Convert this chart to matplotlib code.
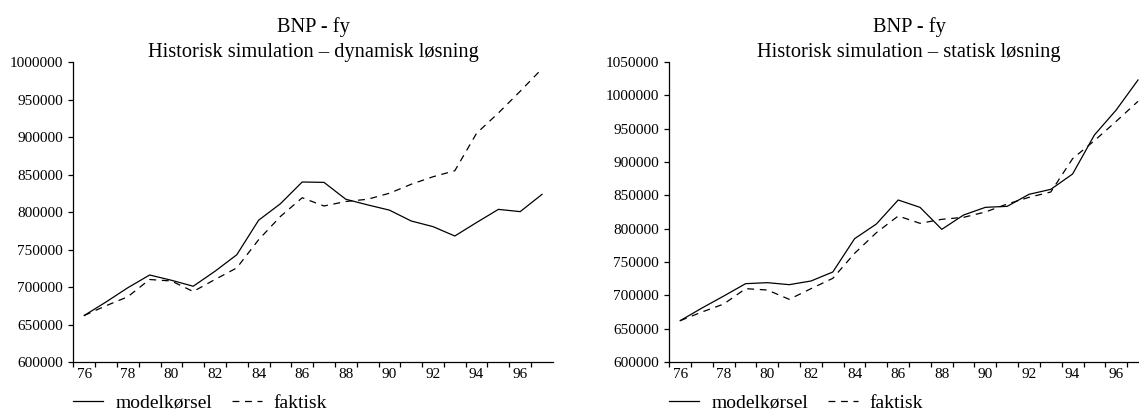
import matplotlib
matplotlib.use("Agg")
import matplotlib.pyplot as plt
from matplotlib.ticker import MultipleLocator, FixedLocator, NullFormatter

years = list(range(76, 98))
year_labels = ["76", "78", "80", "82", "84", "86", "88", "90", "92", "94", "96"]

faktisk = [662000, 675000, 687000, 710000, 708000, 694000, 710000, 725500,
           763000, 794000, 819000, 808000, 814000, 817000, 825000, 837000,
           847000, 855000, 905000, 932000, 961000, 991000]

model_dynamisk = [662000, 680000, 699000, 716000, 709000, 701000, 721000, 743000,
                  789000, 811000, 840000, 839500, 817000, 809500, 802500, 788000,
                  780500, 768000, 786000, 803500, 800500, 823500]

model_statisk = [662000, 681000, 699000, 717500, 719000, 716000, 721500, 735000,
                 785000, 807000, 843000, 832000, 799000, 820500, 832000, 833500,
                 851500, 859000, 882000, 940500, 978000, 1023000]

title_top = "BNP - fy"
subtitles = ["Historisk simulation \u2013 dynamisk l\u00f8sning",
             "Historisk simulation \u2013 statisk l\u00f8sning"]
ylims = [(600000, 1000000), (600000, 1050000)]
legend_labels = ["modelk\u00f8rsel", "faktisk"]

plt.rcParams['font.family'] = ['Liberation Serif', 'DejaVu Serif']

W, H = 1139, 412
fig = plt.figure(figsize=(W / 100, H / 100), dpi=100)

axes_px = [(73.3, 479.6), (669.3, 479.6)]
bottom_px, height_px = 50, 300

for i, (lx, wx) in enumerate(axes_px):
    ax = fig.add_axes([lx / W, bottom_px / H, wx / W, height_px / H])
    model = model_dynamisk if i == 0 else model_statisk
    ax.plot(years, model, color="black", lw=0.9, label=legend_labels[0])
    ax.plot(years, faktisk, color="black", lw=0.9, linestyle=(0, (5.5, 4.5)),
            label=legend_labels[1])
    ax.set_xlim(75.5, 97.5)
    ax.set_ylim(*ylims[i])
    for s in ["top", "right"]:
        ax.spines[s].set_visible(False)
    for s in ["left", "bottom"]:
        ax.spines[s].set_linewidth(0.9)
    ax.xaxis.set_major_locator(FixedLocator(list(range(76, 97, 2))))
    ax.set_xticklabels(year_labels)
    ax.xaxis.set_minor_locator(FixedLocator([y - 0.5 for y in years]))
    ax.xaxis.set_minor_formatter(NullFormatter())
    ax.tick_params(axis="x", which="major", length=0, pad=4.0, labelsize=11)
    ax.tick_params(axis="x", which="minor", length=3.3, width=0.9, direction="out")
    ax.yaxis.set_major_locator(MultipleLocator(50000))
    ax.yaxis.set_major_formatter(matplotlib.ticker.FuncFormatter(lambda v, p: "%d" % v))
    ax.tick_params(axis="y", which="major", length=3.3, width=0.9, pad=4, labelsize=11)
    ax.set_title(title_top + "\n" + subtitles[i], fontsize=14.7, pad=2, linespacing=1.42)
    ax.legend(loc="center left", bbox_to_anchor=(0, -0.137), ncol=2, frameon=False,
              fontsize=14, handlelength=1.55, handletextpad=0.62, columnspacing=1.0,
              borderaxespad=0, borderpad=0)

fig.savefig("out.png", dpi=100)
